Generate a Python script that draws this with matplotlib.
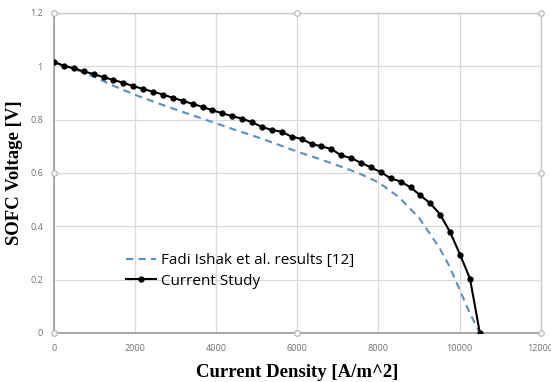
import matplotlib
matplotlib.use("Agg")
import matplotlib.pyplot as plt

# Current study (markers)
study_x = [0, 244, 488, 733, 977, 1221, 1465, 1709, 1953, 2198, 2442, 2686, 2930,
           3174, 3419, 3663, 3907, 4151, 4395, 4640, 4884, 5128, 5372, 5616, 5860,
           6105, 6349, 6593, 6837, 7081, 7326, 7570, 7814, 8058, 8302, 8547, 8791,
           9035, 9279, 9523, 9767, 10012, 10256, 10500]
study_y = [1.016, 1.002, 0.993, 0.981, 0.971, 0.959, 0.949, 0.938, 0.926, 0.915,
           0.905, 0.894, 0.882, 0.871, 0.859, 0.848, 0.835, 0.824, 0.813, 0.804,
           0.790, 0.773, 0.761, 0.755, 0.736, 0.728, 0.709, 0.700, 0.690, 0.666,
           0.656, 0.638, 0.621, 0.603, 0.580, 0.568, 0.546, 0.516, 0.486, 0.444,
           0.378, 0.294, 0.204, 0.0]

# Fadi Ishak et al. results [12] (dashed)
ref_x = [0, 500, 1000, 1500, 2000, 2500, 3000, 3500, 4000, 4500, 5000, 5500, 6000,
         6500, 7000, 7500, 8000, 8500, 9000, 9500, 9750, 10000, 10250, 10500]
ref_y = [1.016, 0.990, 0.960, 0.925, 0.893, 0.865, 0.838, 0.812, 0.786, 0.760,
         0.735, 0.708, 0.680, 0.655, 0.628, 0.600, 0.565, 0.510, 0.432, 0.320,
         0.250, 0.163, 0.075, 0.0]

xticks = [0, 2000, 4000, 6000, 8000, 10000, 12000]
yticks = [0, 0.2, 0.4, 0.6, 0.8, 1, 1.2]
xlabels = ["0", "2000", "4000", "6000", "8000", "10000", "12000"]
ylabels = ["0", "0.2", "0.4", "0.6", "0.8", "1", "1.2"]

fig = plt.figure(figsize=(5.51, 3.82), dpi=100)
ax = fig.add_axes([54/551, 1-333/382, 486.7/551, 320/382])

ax.plot(ref_x, ref_y, linestyle=(0, (3.5, 2.5)), color="#5a8fbf", linewidth=1.5,
        label="Fadi Ishak et al. results [12]", zorder=3)
ax.plot(study_x, study_y, color="black", linewidth=1.5, marker="o", markersize=3.5,
        label="Current Study", zorder=4)

ax.set_xlim(0, 12000)
ax.set_ylim(0, 1.2)
ax.set_xticks(xticks)
ax.set_xticklabels(xlabels)
ax.set_yticks(yticks)
ax.set_yticklabels(ylabels)
ax.tick_params(length=0, labelsize=6.5, colors="#707070", pad=8)
for lab in ax.get_xticklabels() + ax.get_yticklabels():
    lab.set_family("Open Sans")
ax.grid(True, color="#d9d9d9", linewidth=0.9)
ax.set_axisbelow(True)

for side in ["top", "right"]:
    ax.spines[side].set_color("#c8c8c8")
    ax.spines[side].set_linewidth(1.0)
for side in ["left", "bottom"]:
    ax.spines[side].set_color("#a0a0a0")
    ax.spines[side].set_linewidth(1.3)

# selection handles
hx = [0, 0.5, 1, 1, 1, 0.5, 0, 0]
hy = [1, 1, 1, 0.5, 0, 0, 0, 0.5]
ax.plot(hx, hy, linestyle="none", marker="o", markersize=4, markerfacecolor="white",
        markeredgecolor="#b0b0b0", markeredgewidth=0.8, transform=ax.transAxes,
        clip_on=False, zorder=6)

ax.set_xlabel("Current Density [A/m^2]", family="Liberation Serif", weight="bold",
              fontsize=13.5, labelpad=8)
ax.set_ylabel("SOFC Voltage [V]", family="Liberation Serif", weight="bold",
              fontsize=13.5, labelpad=5)

leg = ax.legend(loc="center left", bbox_to_anchor=(0.135, 0.194), frameon=False,
                prop={"family": "Open Sans", "size": 11}, handlelength=2.0,
                handletextpad=0.3, labelspacing=0.35, borderaxespad=0)

fig.savefig("out.png", dpi=100)
